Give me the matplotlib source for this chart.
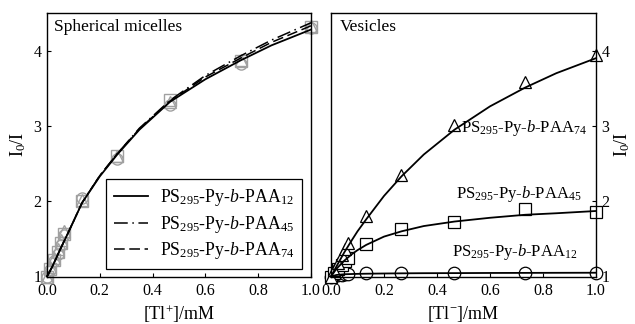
import matplotlib
matplotlib.use("Agg")
import matplotlib.pyplot as plt

plt.rcParams['font.family'] = ['Liberation Serif', 'DejaVu Serif']
plt.rcParams['mathtext.fontset'] = 'custom'
plt.rcParams['mathtext.rm'] = 'Liberation Serif'
plt.rcParams['mathtext.it'] = 'Liberation Serif:italic'

# ---- data ----
x_pts = [0.0, 0.013, 0.026, 0.04, 0.053, 0.066, 0.133, 0.266, 0.466, 0.733, 1.0]

# Spherical micelles (left)
sm_paa12 = [1.0, 1.08, 1.20, 1.30, 1.42, 1.55, 2.04, 2.56, 3.28, 3.82, 4.30]
sm_paa45 = [1.0, 1.10, 1.22, 1.33, 1.45, 1.56, 2.00, 2.60, 3.34, 3.86, 4.32]
sm_paa74 = [1.0, 1.12, 1.24, 1.36, 1.48, 1.60, 2.02, 2.60, 3.32, 3.88, 4.33]

x_fit = [0.0, 0.02, 0.05, 0.08, 0.10, 0.133, 0.2, 0.266, 0.35, 0.466, 0.6, 0.733, 0.85, 1.0]
sm_fit12 = [1.0, 1.13, 1.36, 1.58, 1.73, 1.98, 2.33, 2.62, 2.95, 3.32, 3.62, 3.87, 4.07, 4.28]
sm_fit45 = [1.0, 1.13, 1.36, 1.58, 1.73, 1.98, 2.34, 2.63, 2.97, 3.34, 3.67, 3.93, 4.14, 4.37]
sm_fit74 = [1.0, 1.13, 1.36, 1.58, 1.73, 1.98, 2.34, 2.63, 2.96, 3.33, 3.65, 3.90, 4.11, 4.33]

# Vesicles (right)
ve_paa12 = [1.0, 1.01, 1.02, 1.02, 1.03, 1.03, 1.04, 1.04, 1.05, 1.05, 1.05]
ve_paa45 = [1.0, 1.05, 1.10, 1.15, 1.20, 1.25, 1.43, 1.63, 1.72, 1.89, 1.86]
ve_paa74 = [1.0, 1.09, 1.18, 1.28, 1.37, 1.45, 1.81, 2.35, 3.01, 3.59, 3.94]

ve_fit12 = [1.0, 1.02, 1.03, 1.033, 1.035, 1.037, 1.04, 1.042, 1.044, 1.045, 1.047, 1.048, 1.049, 1.05]
ve_fit45 = [1.0, 1.10, 1.21, 1.30, 1.35, 1.42, 1.53, 1.60, 1.67, 1.73, 1.78, 1.82, 1.84, 1.87]
ve_fit74 = [1.0, 1.13, 1.32, 1.49, 1.60, 1.76, 2.07, 2.33, 2.62, 2.95, 3.26, 3.51, 3.70, 3.90]

labels = [r'PS$_{295}$-Py-$b$-PAA$_{12}$',
          r'PS$_{295}$-Py-$b$-PAA$_{45}$',
          r'PS$_{295}$-Py-$b$-PAA$_{74}$']
xticks = [0.0, 0.2, 0.4, 0.6, 0.8, 1.0]
yticks = [1, 2, 3, 4]

fig = plt.figure(figsize=(6.35, 3.24), dpi=100)
axL = fig.add_axes([47/635, 1 - 276.5/324, 264/635, 263.5/324])
axR = fig.add_axes([331/635, 1 - 276.5/324, 265/635, 263.5/324])

ls45 = (0, (9, 3, 1, 3))
ls74 = (0, (7, 3))

# left panel
gray = '#a0a0a0'
ms = 8
axL.plot(x_pts, sm_paa12, 'o', mfc='none', mec=gray, ms=ms, mew=1, zorder=2)
axL.plot(x_pts, sm_paa45, 's', mfc='none', mec=gray, ms=ms, mew=1, zorder=2)
axL.plot(x_pts, sm_paa74, '^', mfc='none', mec=gray, ms=ms, mew=1, zorder=2)
axL.plot(x_fit, sm_fit12, '-', color='black', lw=1.3, label=labels[0], zorder=3)
axL.plot(x_fit, sm_fit45, linestyle=ls45, color='black', lw=1.1, label=labels[1], zorder=3)
axL.plot(x_fit, sm_fit74, linestyle=ls74, color='black', lw=1.1, label=labels[2], zorder=3)

leg = axL.legend(loc='lower right', bbox_to_anchor=(0.966, 0.028), fontsize=12.8,
                 frameon=True, fancybox=False, edgecolor='black', framealpha=1,
                 handlelength=1.95, handletextpad=0.65, borderpad=0.45,
                 labelspacing=0.3, borderaxespad=0)
leg.get_frame().set_linewidth(0.9)

axL.text(0.025, 0.945, 'Spherical micelles', transform=axL.transAxes,
         fontsize=12.5, va='center', ha='left')
axL.set_ylabel(r'I$_0$/I', fontsize=13, labelpad=4)
axL.set_xlabel(r'[Tl$^{+}$]/mM', fontsize=13, labelpad=3)

# right panel
msR = 9
axR.plot(x_pts, ve_paa12, 'o', mfc='white', mec='black', ms=msR, mew=0.9, zorder=2)
axR.plot(x_pts, ve_paa45, 's', mfc='white', mec='black', ms=msR-1, mew=0.9, zorder=2)
axR.plot(x_pts, ve_paa74, '^', mfc='white', mec='black', ms=msR, mew=0.9, zorder=2)
axR.plot(x_fit, ve_fit12, '-', color='black', lw=1.3, zorder=3)
axR.plot(x_fit, ve_fit45, '-', color='black', lw=1.3, zorder=3)
axR.plot(x_fit, ve_fit74, '-', color='black', lw=1.3, zorder=3)

axR.text(0.49, 2.97, labels[2], fontsize=12, va='center', ha='left')
axR.text(0.47, 2.10, labels[1], fontsize=12, va='center', ha='left')
axR.text(0.455, 1.33, labels[0], fontsize=12, va='center', ha='left')
axR.text(0.035, 0.945, 'Vesicles', transform=axR.transAxes,
         fontsize=12.5, va='center', ha='left')
axR.yaxis.set_label_position('right')
axR.yaxis.tick_right()
axR.set_ylabel(r'I$_0$/I', fontsize=13, labelpad=2)
axR.set_xlabel(r'[Tl$^{-}$]/mM', fontsize=13, labelpad=3)

for ax in (axL, axR):
    ax.set_xlim(0, 1.0)
    ax.set_ylim(1, 4.5)
    ax.set_xticks(xticks)
    ax.set_xticklabels([f'{t:.1f}' for t in xticks])
    ax.set_yticks(yticks)
    ax.tick_params(direction='in', length=3, width=0.8, labelsize=11.5)
    ax.tick_params(axis='x', pad=5)
    ax.tick_params(axis='y', pad=4)
    for s in ax.spines.values():
        s.set_linewidth(1.0)
    for m in ax.lines:
        m.set_clip_on(False)

fig.savefig('out.png', dpi=100)
